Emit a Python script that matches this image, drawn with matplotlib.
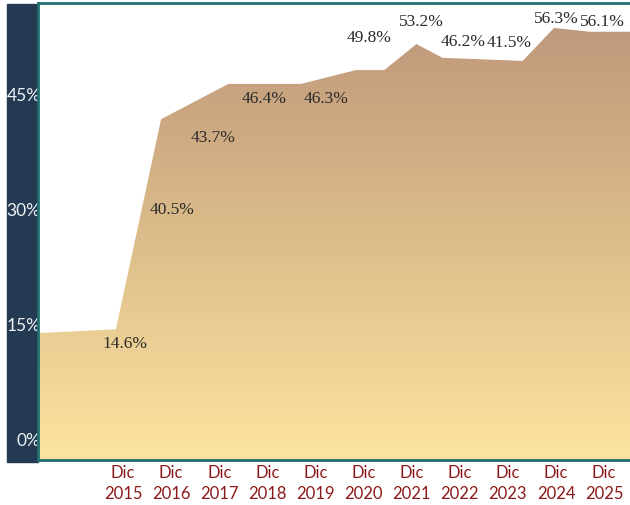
import numpy as np
import matplotlib.pyplot as plt
from matplotlib.colors import LinearSegmentedColormap
from matplotlib.patches import Rectangle, Polygon

# categories on the x axis
years = ['2015', '2016', '2017', '2018', '2019', '2020', '2021', '2022', '2023', '2024', '2025']
# labelled values (%)
values = [14.6, 40.5, 43.7, 46.4, 46.3, 49.8, 53.2, 46.2, 41.5, 56.3, 56.1]
# outline of the filled area as drawn (category position, %)
area_x = [-1.77, -0.15, 0.79, 2.19, 3.70, 4.84, 5.43, 6.10, 6.64, 8.31, 8.96, 9.71, 10.54]
area_y = [13.8, 14.3, 41.7, 46.3, 46.3, 48.1, 48.1, 51.5, 49.7, 49.3, 53.6, 53.1, 53.1]
# where each value label sits (category position, %)
label_x = [0.04, 1.02, 1.88, 2.94, 4.22, 5.12, 6.20, 7.08, 8.02, 9.00, 9.96]
label_y = [12.5, 30.0, 39.4, 44.4, 44.4, 52.4, 54.5, 51.9, 51.8, 54.9, 54.5]
y_ticks = [0, 15, 30, 45]

NAVY = '#243a52'
TEAL = '#1f6f70'
RED = '#8b1a1a'

fig = plt.figure(figsize=(6.30, 5.06), dpi=100)

# dark panel behind the y tick labels
fig.patches.append(Rectangle((7 / 630, 1 - 463 / 506), 31 / 630, 458 / 506,
                             transform=fig.transFigure, color=NAVY, zorder=-1))

ax = fig.add_axes([38 / 630, 1 - 461 / 506, 592 / 630, 457 / 506])
ax.set_xlim(-1.77, 10.54)
ax.set_ylim(-2.74, 56.85)

# gradient fill clipped to the area outline
cmap = LinearSegmentedColormap.from_list('sand', ['#fce4a0', '#dcbc8a', '#bd967a'])
grad = np.linspace(0, 1, 256).reshape(-1, 1)
img = ax.imshow(grad, cmap=cmap, origin='lower', aspect='auto',
                extent=[-1.77, 10.54, -2.74, 56.0], zorder=1)
poly_pts = list(zip(area_x, area_y)) + [(area_x[-1], -2.74), (area_x[0], -2.74)]
poly = Polygon(poly_pts, closed=True, facecolor='none', edgecolor='none')
ax.add_patch(poly)
img.set_clip_path(poly)

for x, y, v in zip(label_x, label_y, values):
    ax.text(x, y, f'{v}%', ha='center', va='center', fontsize=12.5,
            family='Liberation Serif', color='#2b2b2b', zorder=3)

ax.set_xticks(range(len(years)))
ax.set_xticklabels([f'Dic\n{y}' for y in years], color=RED, fontsize=12,
                   family='Lato', linespacing=1.4)
ax.set_yticks(y_ticks)
ax.set_yticklabels([f'{t}%' for t in y_ticks], color='#eef2f6', fontsize=12.5, family='Lato')
ax.tick_params(length=0, pad=3)
ax.tick_params(axis='y', pad=-2)

for side in ['left', 'top', 'bottom']:
    ax.spines[side].set_color(TEAL)
    ax.spines[side].set_linewidth(2)
ax.spines['right'].set_visible(False)

fig.savefig('out.png', dpi=100)
